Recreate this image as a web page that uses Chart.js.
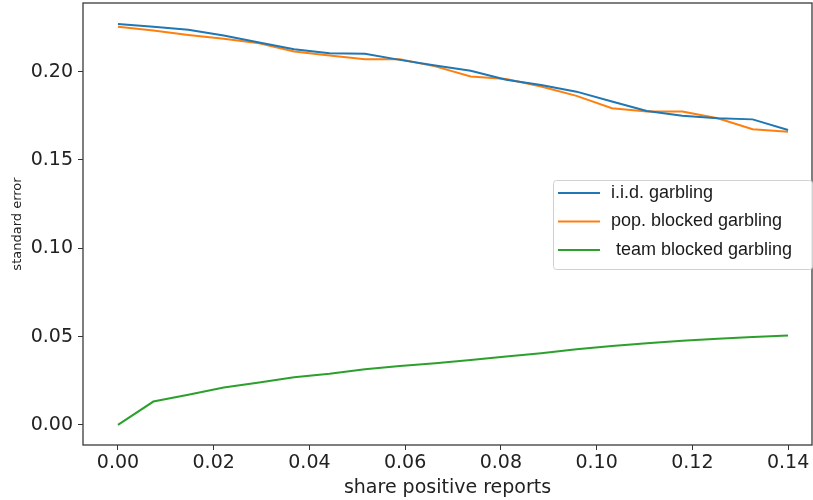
<!DOCTYPE html>
<html>
<head>
<meta charset="utf-8">
<script src="https://cdn.jsdelivr.net/npm/chart.js@4/dist/chart.umd.min.js"></script>
<style>
  body { margin: 0; background: #fff; }
  #chartBox { width: 813px; height: 500px; }
</style>
</head>
<body>
<div id="chartBox"><canvas id="seChart" width="813" height="500"></canvas></div>
<script>
// share of positive reports (x)
var shareValues = [0, 0.0074, 0.0147, 0.0221, 0.0295, 0.0368, 0.0442, 0.0516, 0.0589, 0.0663,
                   0.0737, 0.0811, 0.0884, 0.0958, 0.1032, 0.1105, 0.1179, 0.1253, 0.1326, 0.14];

var iidGarbling = [0.227, 0.2255, 0.2237, 0.2205, 0.2165, 0.2127, 0.2104, 0.2102, 0.2067, 0.2035,
                   0.2005, 0.1954, 0.1925, 0.1887, 0.1831, 0.1778, 0.1750, 0.1736, 0.1730, 0.1670];
var popBlocked  = [0.2254, 0.2233, 0.2208, 0.2186, 0.2161, 0.2114, 0.2092, 0.2071, 0.2071, 0.2030,
                   0.1973, 0.1958, 0.1916, 0.1863, 0.1793, 0.1774, 0.1774, 0.1736, 0.1674, 0.1660];
var teamBlocked = [0, 0.0132, 0.0170, 0.0211, 0.0240, 0.0270, 0.0290, 0.0315, 0.0334, 0.0349,
                   0.0368, 0.0387, 0.0406, 0.0428, 0.0447, 0.0462, 0.0477, 0.0487, 0.0497, 0.0506];

var seriesNames = ['i.i.d. garbling', 'pop. blocked garbling', ' team blocked garbling'];
var xTicks = [0, 0.02, 0.04, 0.06, 0.08, 0.10, 0.12, 0.14];
var yTicks = [0, 0.05, 0.10, 0.15, 0.20];

function pts(ys) {
    return ys.map(function(y, i) { return {x: shareValues[i], y: y}; });
}

// frame + legend, matplotlib style
var boxPlugin = {
    id: 'boxPlugin',
    afterDatasetsDraw: function(chart) {
        var c = chart.ctx, a = chart.chartArea;
        c.save();
        c.strokeStyle = '#3a3a3a';
        c.lineWidth = 1.3;
        c.strokeRect(a.left, a.top, a.right - a.left, a.bottom - a.top);

        var lx = 553, ly = 180, lw = 259, lh = 89;
        c.fillStyle = 'rgba(255,255,255,0.85)';
        c.strokeStyle = '#d0d0d0';
        c.lineWidth = 1;
        c.beginPath();
        c.roundRect(lx + 0.5, ly + 0.5, lw, lh, 3);
        c.fill();
        c.stroke();

        c.font = '18px "Liberation Sans", Arial, sans-serif';
        c.textBaseline = 'middle';
        chart.data.datasets.forEach(function(ds, i) {
            var y = ly + 13 + i * 28.5;
            c.strokeStyle = ds.borderColor;
            c.lineWidth = 2;
            c.beginPath();
            c.moveTo(lx + 5, y);
            c.lineTo(lx + 47, y);
            c.stroke();
            c.fillStyle = '#1a1a1a';
            c.fillText(ds.label, lx + 58, y);
        });
        c.restore();
    }
};

var ctx = document.getElementById('seChart').getContext('2d');
var seChart = new Chart(ctx, {
    type: 'line',
    data: {
        datasets: [{
            label: seriesNames[0],
            data: pts(iidGarbling),
            borderColor: '#1f77b4',
            borderWidth: 2,
            fill: false
        }, {
            label: seriesNames[1],
            data: pts(popBlocked),
            borderColor: '#ff7f0e',
            borderWidth: 2,
            fill: false
        }, {
            label: seriesNames[2],
            data: pts(teamBlocked),
            borderColor: '#2ca02c',
            borderWidth: 2,
            fill: false
        }]
    },
    options: {
        responsive: false,
        animation: false,
        elements: { point: { radius: 0 }, line: { tension: 0 } },
        layout: { padding: { top: 3, right: 1, left: 0, bottom: 0 } },
        plugins: { legend: { display: false }, tooltip: { enabled: false } },
        scales: {
            x: {
                type: 'linear',
                min: -0.0073,
                max: 0.145,
                afterBuildTicks: function(s) { s.ticks = xTicks.map(function(v) { return {value: v}; }); },
                afterFit: function(s) { s.height = 55; s.paddingLeft = 0; s.paddingRight = 0; },
                grid: { drawOnChartArea: false, tickLength: 5, tickColor: '#333', tickWidth: 1 },
                border: { display: false },
                ticks: {
                    padding: 2,
                    color: '#222',
                    font: { family: '"DejaVu Sans"', size: 19 },
                    callback: function(v) { return v.toFixed(2); }
                },
                title: {
                    display: true,
                    text: 'share positive reports',
                    color: '#222',
                    font: { family: '"DejaVu Sans"', size: 19 },
                    padding: { top: 0, bottom: 1 }
                }
            },
            y: {
                min: -0.0114,
                max: 0.2389,
                afterBuildTicks: function(s) { s.ticks = yTicks.map(function(v) { return {value: v}; }); },
                afterFit: function(s) { s.width = 83; s.paddingTop = 0; s.paddingBottom = 0; },
                grid: { drawOnChartArea: false, tickLength: 5, tickColor: '#333', tickWidth: 1 },
                border: { display: false },
                ticks: {
                    padding: 5,
                    color: '#222',
                    font: { family: '"DejaVu Sans"', size: 19 },
                    callback: function(v) { return v.toFixed(2); }
                },
                title: {
                    display: true,
                    text: 'standard error',
                    color: '#222',
                    font: { family: '"DejaVu Sans"', size: 13 },
                    padding: { top: 10, bottom: 0 }
                }
            }
        }
    },
    plugins: [boxPlugin]
});
</script>
</body>
</html>
